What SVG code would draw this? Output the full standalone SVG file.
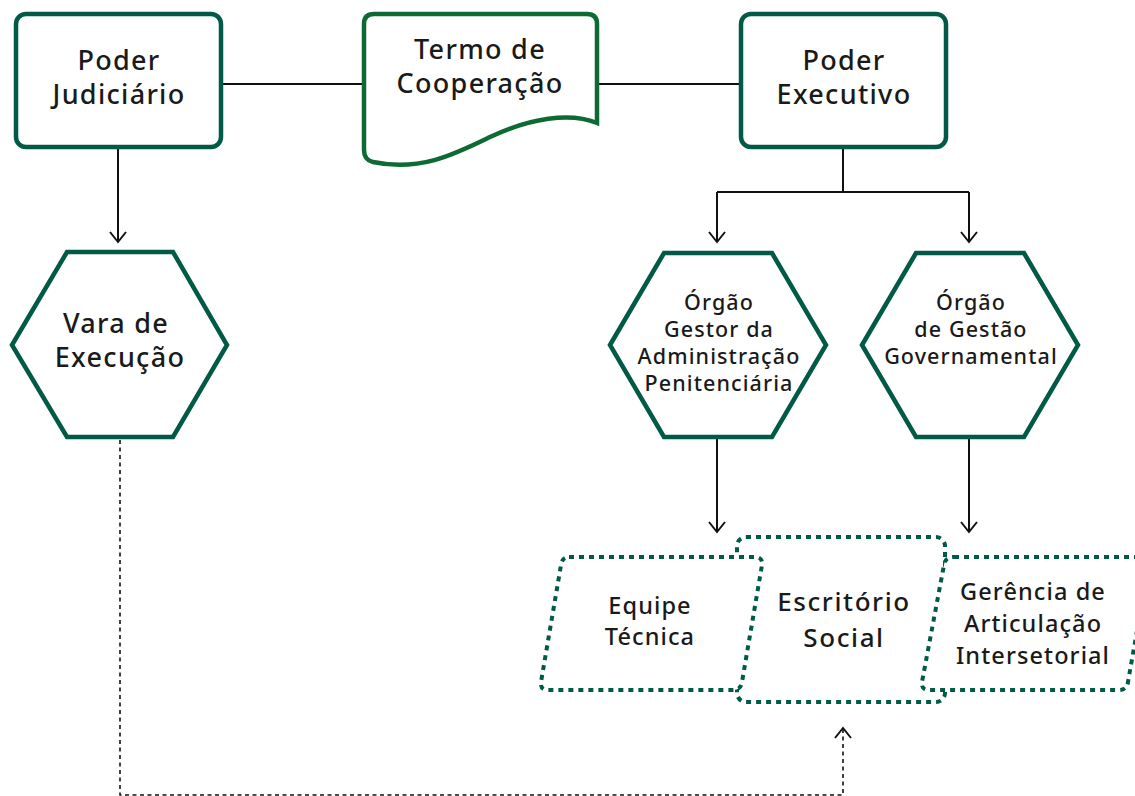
<svg xmlns="http://www.w3.org/2000/svg" width="1135" height="796" viewBox="0 0 1135 796">
<defs>
<style>
.box{fill:#fff;stroke:#005a46;stroke-width:4.5}
.doc{fill:#fff;stroke:#0d6a33;stroke-width:4.5}
.dot{fill:#fff;stroke:#005a46;stroke-width:4;stroke-dasharray:5 5}
.ln{fill:none;stroke:#111;stroke-width:2}
.dash{fill:none;stroke:#111;stroke-width:1.6;stroke-dasharray:4 3.5}
text{font-family:"Noto Sans","Liberation Sans",sans-serif;fill:#1a1a1a;text-anchor:middle;font-weight:500}
.t28{font-size:27px;letter-spacing:1.3px}
.t26{font-size:26px;letter-spacing:1.6px}
.t22{font-size:21.5px;letter-spacing:1.1px}
.t24{font-size:23.5px;letter-spacing:1.1px}
</style>
<marker id="arr" markerUnits="userSpaceOnUse" markerWidth="24" markerHeight="24" viewBox="-12 -12 24 24" refX="0" refY="0" orient="auto" overflow="visible">
<path d="M-10,-8 L0,0 L-10,8" fill="none" stroke="#111" stroke-width="2"/>
</marker>
</defs>
<g id="connectors">
<path class="ln" d="M221,84 H363"/>
<path class="ln" d="M598,84 H741"/>
<path class="ln" d="M118,147 V242" marker-end="url(#arr)"/>
<path class="ln" d="M843,147 V192 M717,192 H969"/>
<path class="ln" d="M717,192 V242" marker-end="url(#arr)"/>
<path class="ln" d="M969,192 V242" marker-end="url(#arr)"/>
<path class="ln" d="M717,438 V532" marker-end="url(#arr)"/>
<path class="ln" d="M969,438 V532" marker-end="url(#arr)"/>
<path class="dash" d="M120,440 V795 H843 V728" marker-end="url(#arr)"/>
</g>
<g id="poder-judiciario">
<rect class="box" x="16" y="14" width="205" height="133" rx="10"/>
<text class="t28" x="119" y="70">Poder</text>
<text class="t28" x="119" y="104">Judiciário</text>
</g>
<g id="termo">
<path class="doc" d="M374,14 H587 Q597,14 597,24 V123 C570,112 530,118 490,137 C455,154 420,172 373,162 Q364,160 364,150 V24 Q364,14 374,14 Z"/>
<text class="t28" x="480" y="59">Termo de</text>
<text class="t28" x="480" y="93">Cooperação</text>
</g>
<g id="poder-executivo">
<rect class="box" x="741" y="14" width="205" height="133" rx="10"/>
<text class="t28" x="844" y="70">Poder</text>
<text class="t28" x="844" y="104">Executivo</text>
</g>
<g id="vara">
<polygon class="box" points="12,345 67,252 173,252 227,345 173,437 67,437"/>
<text class="t28" x="116" y="333">Vara de</text>
<text class="t28" x="120" y="367">Execução</text>
</g>
<g id="orgao-gestor">
<polygon class="box" points="610,345 664,253 772,253 826,345 772,437 664,437"/>
<text class="t22" x="719" y="310">Órgão</text>
<text class="t22" x="719" y="337">Gestor da</text>
<text class="t22" x="719" y="364">Administração</text>
<text class="t22" x="719" y="391">Penitenciária</text>
</g>
<g id="orgao-gestao">
<polygon class="box" points="862,345 916,253 1024,253 1078,345 1024,437 916,437"/>
<text class="t22" x="971" y="310">Órgão</text>
<text class="t22" x="971" y="337">de Gestão</text>
<text class="t22" x="971" y="364">Governamental</text>
</g>
<g id="escritorio">
<rect class="dot" x="737" y="537" width="208" height="165" rx="9"/>
<text class="t26" x="844" y="611">Escritório</text>
<text class="t26" x="844" y="647">Social</text>
</g>
<g id="equipe">
<path class="dot" d="M569,557 H755 Q763,557 762,565 L742,682 Q741,690 733,690 H548 Q540,690 541,682 L561,565 Q562,557 569,557 Z"/>
<text class="t24" x="650" y="614">Equipe</text>
<text class="t24" x="650" y="645">Técnica</text>
</g>
<g id="gerencia">
<path class="dot" d="M954,557 H1150 L1128,682 Q1127,690 1119,690 H929 Q921,690 922,682 L944,565 Q945,557 954,557 Z"/>
<text class="t24" x="1033" y="600">Gerência de</text>
<text class="t24" x="1033" y="632">Articulação</text>
<text class="t24" x="1033" y="664">Intersetorial</text>
</g>
</svg>
